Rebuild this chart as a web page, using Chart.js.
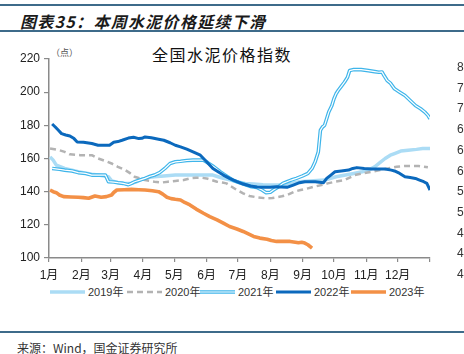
<!DOCTYPE html>
<html><head><meta charset="utf-8">
<script src="https://cdn.jsdelivr.net/npm/chart.js@4/dist/chart.umd.min.js"></script>
<style>
html,body{margin:0;padding:0;background:#fff;}
body{width:464px;height:354px;position:relative;overflow:hidden;font-family:"Liberation Sans","Noto Sans CJK SC",sans-serif;}
.hl{position:absolute;left:0;width:464px;height:2px;background:#3e6b8a;}
#ttl{position:absolute;left:20px;top:9px;font:italic bold 16px "Noto Sans CJK SC",sans-serif;letter-spacing:1.3px;color:#1a1a1a;white-space:nowrap;}
#sub{position:absolute;left:152px;top:42px;font:16px "Noto Sans CJK SC",serif;letter-spacing:1.5px;color:#111;white-space:nowrap;}
#unit{position:absolute;left:51px;top:46px;font:9px "Noto Sans CJK SC",sans-serif;color:#555;}
#src{position:absolute;left:17px;top:339px;font:12px "Noto Sans CJK SC",monospace;color:#333;white-space:nowrap;}
#leg{position:absolute;top:285px;left:0;width:464px;height:14px;}
.li{position:absolute;top:0;height:14px;font:11px "Liberation Sans","Noto Sans CJK SC",sans-serif;color:#333;line-height:14px;white-space:nowrap;}
.rt{position:absolute;left:457px;font:12px "Liberation Sans",sans-serif;color:#333;}
canvas{position:absolute;left:0;top:0;}
</style></head>
<body>
<div class="hl" style="top:4px"></div>
<div id="ttl">图表35：本周水泥价格延续下滑</div>
<div class="hl" style="top:30px"></div>
<div id="sub">全国水泥价格指数</div>
<div id="unit">（点）</div>
<canvas id="c" width="464" height="282"></canvas>
<div id="leg"></div>
<div class="hl" style="top:331px"></div>
<div id="src">来源：Wind，国金证券研究所</div>
<div id="rt"></div>
<script>
// ---- tick labels ----
const monthLabels = ['1月','2月','3月','4月','5月','6月','7月','8月','9月','10月','11月','12月',''];
const monthStarts = [0,31,59,90,120,151,181,212,243,273,304,334,365];
const seriesNames = ['2019年','2020年','2021年','2022年','2023年'];
const rightAxisLabels = ['80','76','72','68','64','60','56','52','48','44','40'];

// ---- series (day of year, index value) ----
const days2019 = [1,4,7,15,28,41,47,57,60,66,73,79,84,89,95,101,110,121,135,148,157,162,167,174,180,188,196,205,212,224,232,240,250,264,275,284,292,300,306,312,317,322,327,331,337,344,352,358,365];
const vals2019 = [161,159,156,154,152,150.5,150,149,146.5,145.5,145,145,146,147.5,148.5,149,149.5,150,150,150,150,149,148,147,146,145,144.6,144.2,144,144,145,146,146.5,147,149,150,151,152,153,155,157.5,160,162,163,164.5,165,165.5,166,166];

const days2020 = [1,10,15,20,30,41,47,54,60,66,73,78,82,87,92,101,108,114,121,129,135,141,146,151,156,161,166,170,175,180,186,192,200,208,214,218,223,228,235,241,248,254,261,267,274,283,288,293,300,309,317,325,333,341,354,363];
const vals2020 = [166,165,164,162.5,162,162,160,158.5,157,155,153,151,149,148,147,146,145.5,146,146.5,147,148,148.4,148.4,148,147,146,145.5,145,143,141,139,137.4,136.5,136,136.2,136.6,137.2,138,140,141,142,143,144,145,146,147,148.5,150,151,152,153,154,155,155.5,155.5,154.7];

const days2021 = [3,10,15,22,28,35,41,48,54,57,62,66,71,76,79,82,87,92,97,101,106,111,116,121,126,132,138,143,148,152,158,164,170,176,182,189,194,199,204,208,212,215,220,224,228,232,237,243,248,252,255,258,260,262,264,266,268,271,273,275,277,280,283,286,288,292,299,306,312,316,319,321,324,327,331,336,341,346,351,356,360,363,365];
const vals2021 = [154,153.5,153,152.5,151.5,151,150,150,150,146,145.8,145.4,145,144.2,145,146,147,148,149.3,150,151.5,154,157,158,158.3,158.8,159,159,159,157.5,155,152,149.5,147,145.5,144,143,142.6,141,139.4,139.6,141,143,145,146,147,148,149.5,151,154,158,164,177,179,180,184,188,192,196,199,201,203.5,206,209,213,213.6,213.6,213,212.4,212,212.2,210,207,205.5,202,200,198,195,192,190,188,186,184];

const days2022 = [3,6,9,12,16,20,24,27,33,41,47,52,58,62,66,70,76,81,86,89,92,98,105,110,116,121,126,132,138,145,151,157,162,167,173,180,186,193,199,205,212,218,223,228,234,240,245,255,263,266,270,274,280,287,291,295,302,309,316,322,328,331,336,341,346,351,355,359,362,365];
const vals2022 = [180.8,179,177,175,174.2,173.6,172,170,169.8,169,168,168,168,169.8,170.2,171,172.3,172.8,172,172.2,173,172.5,171.6,171,169.5,168,167,165.6,164,162,158,154,152,150,148,146,144.6,143.4,142.8,142.6,142.6,143,142.8,142.6,144,145.4,146,146,145.4,148,150,152,152.5,153,154,154.5,154,153.7,153.7,153.7,153,152.5,151,149,148.5,148,147,146,145,141];

const days2023 = [1,4,7,10,14,21,28,33,38,44,50,55,60,62,65,72,79,86,92,99,105,109,113,117,121,126,130,135,141,148,154,161,167,173,180,186,191,196,202,209,213,218,225,231,236,239,242,245,248,252];
const vals2023 = [141,140,139.4,138,137,136.8,136.6,136.4,136,137.4,136.6,137,138,139.5,141,141.2,141.4,141.2,141,140.6,140,138.5,136.6,135.8,135.4,135,133.5,132,129.5,127,125,123,121,119,117.5,116,114.5,113,112,111.3,110.5,110,110,110,109.5,109.2,109.5,109,108,106];

const yMin = 100, yMax = 220, yStep = 20;

const pts = (d,v) => d.map((x,i)=>({x:x,y:v[i]}));
const base = {pointRadius:0, pointHoverRadius:0, tension:0, fill:false, borderJoinStyle:'round', borderCapStyle:'butt'};
const styles = [
  {color:'#abdcf5', width:3.5},
  {color:'#b3b3b3', width:2.5, dash:[6,4]},
  {color:'#3fb5ea', width:3.6, inner:true},
  {color:'#0b69bd', width:3},
  {color:'#f39046', width:3.6}
];

const datasets = [
  Object.assign({label:seriesNames[4], data:pts(days2023,vals2023), borderColor:styles[4].color, borderWidth:styles[4].width}, base),
  Object.assign({label:seriesNames[3], data:pts(days2022,vals2022), borderColor:styles[3].color, borderWidth:styles[3].width}, base),
  Object.assign({label:'2021inner', data:pts(days2021,vals2021), borderColor:'#ffffff', borderWidth:1.2}, base),
  Object.assign({label:seriesNames[2], data:pts(days2021,vals2021), borderColor:styles[2].color, borderWidth:styles[2].width}, base),
  Object.assign({label:seriesNames[1], data:pts(days2020,vals2020), borderColor:styles[1].color, borderWidth:styles[1].width, borderDash:styles[1].dash}, base),
  Object.assign({label:seriesNames[0], data:pts(days2019,vals2019), borderColor:styles[0].color, borderWidth:styles[0].width}, base)
];

const axisColor = '#8a8a8a';
new Chart(document.getElementById('c'), {
  type:'line',
  data:{datasets:datasets},
  options:{
    responsive:false, animation:false, devicePixelRatio:1,
    layout:{padding:{top:59,left:0,right:34,bottom:0}},
    plugins:{legend:{display:false}, title:{display:false}, tooltip:{enabled:false}},
    scales:{
      x:{type:'linear', min:0, max:365,
        afterBuildTicks:s=>{s.ticks = monthStarts.map(v=>({value:v}));},
        afterFit:s=>{s.height = 24;},
        ticks:{autoSkip:false, maxRotation:0, minRotation:0, padding:6, color:'#222',
          font:{size:12, family:'"Liberation Sans","Noto Sans CJK SC",sans-serif'},
          callback:(v,i)=>monthLabels[i]},
        grid:{drawOnChartArea:false, drawTicks:true, tickLength:4, color:axisColor, lineWidth:1.2},
        border:{color:axisColor, width:1.5}
      },
      y:{min:yMin, max:yMax,
        afterFit:s=>{s.width = 49;},
        ticks:{stepSize:yStep, padding:4, color:'#222', font:{size:12, family:'"Liberation Sans",sans-serif'}},
        grid:{drawOnChartArea:false, drawTicks:true, tickLength:5, color:axisColor, lineWidth:1.2},
        border:{color:axisColor, width:1.5}
      }
    }
  }
});

// ---- legend ----
const legX = [50,127,200,276,351];
const leg = document.getElementById('leg');
seriesNames.forEach((n,i)=>{
  const st = styles[i];
  const cv = document.createElement('canvas');
  cv.width = 35; cv.height = 14;
  cv.style.left = legX[i]+'px'; cv.style.top = '0px';
  const g = cv.getContext('2d');
  g.lineWidth = st.width; g.strokeStyle = st.color;
  if (st.dash) g.setLineDash(st.dash);
  g.beginPath(); g.moveTo(0,7); g.lineTo(35,7); g.stroke();
  if (st.inner){ g.lineWidth = 1.2; g.strokeStyle='#fff'; g.beginPath(); g.moveTo(0,7); g.lineTo(35,7); g.stroke(); }
  leg.appendChild(cv);
  const t = document.createElement('div');
  t.className='li'; t.style.left = (legX[i]+38)+'px'; t.textContent = n;
  leg.appendChild(t);
});

// ---- clipped axis of the neighbouring chart ----
const rt = document.getElementById('rt');
rightAxisLabels.forEach((l,i)=>{
  const d = document.createElement('div');
  d.className='rt'; d.style.top = (60 + i*20.7)+'px'; d.textContent = l;
  rt.appendChild(d);
});
</script>
</body></html>
